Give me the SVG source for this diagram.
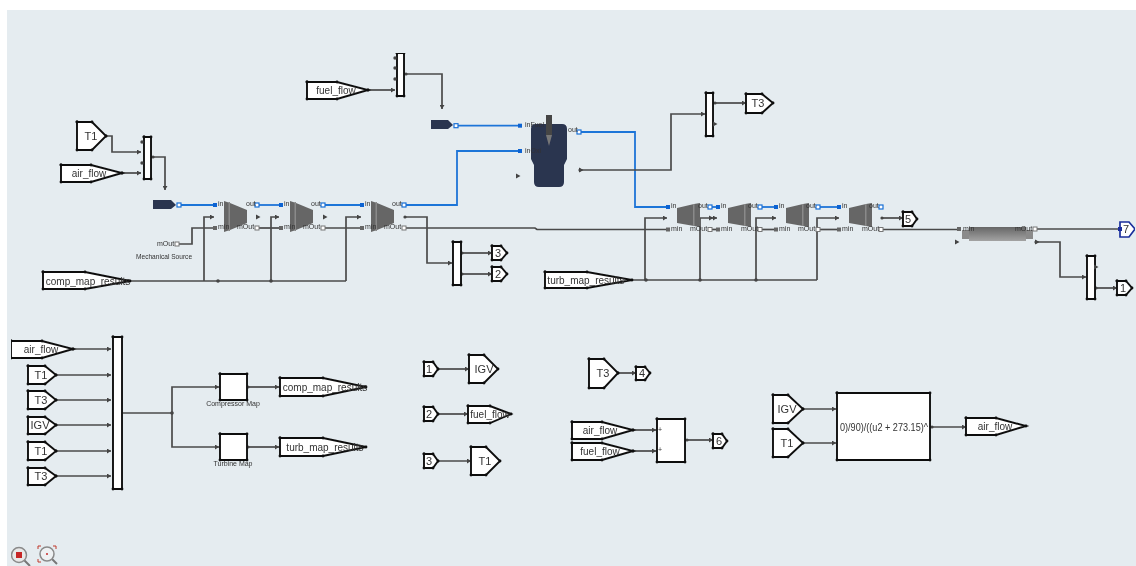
<svg xmlns="http://www.w3.org/2000/svg" width="1136" height="566" viewBox="0 0 1136 566">
<style>
text{font-family:"Liberation Sans",Arial,sans-serif;fill:#333}
.b{fill:#fff;stroke:#111;stroke-width:1.9;marker:url(#d)}
.t{font-size:10px;text-anchor:middle}
.n{font-size:11px;text-anchor:middle}
.s{font-size:7px}
.l{font-size:7px;text-anchor:middle}
.w{fill:none;stroke:#4a4a4a;stroke-width:1.7;marker-start:url(#o);marker-end:url(#a)}
.w2{fill:none;stroke:#4a4a4a;stroke-width:1.7}
.f{fill:none;stroke:#1f74d8;stroke-width:1.8}
.m{fill:#666}
.m2{fill:#8a8a8a}
.pb{fill:#0a64d2}
.ph{fill:#fff;stroke:#1a6fd6;stroke-width:1.2}
.pg{fill:#666}
.pw{fill:#fff;stroke:#777;stroke-width:1}
.y{fill:#2a3450}
</style>
<defs>
<filter id="soft" x="0" y="0" width="1" height="1"><feGaussianBlur stdDeviation="0.4"/></filter>
<marker id="d" markerUnits="userSpaceOnUse" markerWidth="4" markerHeight="4" refX="2" refY="2"><circle cx="2" cy="2" r="1.4" fill="#111"/></marker>
<marker id="a" markerUnits="userSpaceOnUse" markerWidth="5" markerHeight="5" refX="4" refY="2.5" orient="auto"><path d="M0 0L4 2.5L0 5Z" fill="#444"/></marker>
<marker id="o" markerUnits="userSpaceOnUse" markerWidth="4" markerHeight="4" refX="2" refY="2"><circle cx="2" cy="2" r="1.6" fill="#444"/></marker>
<linearGradient id="g" x1="0" y1="0" x2="0" y2="1"><stop offset="0" stop-color="#666"/><stop offset="1" stop-color="#a3a3a3"/></linearGradient>
<g id="comp"><polygon class="m" points="0,0 6,2 23,9 23,22 6,29 0,31"/><rect class="m2" x="4.5" y="1" width="1.5" height="29"/></g>
<g id="turb"><polygon class="m" points="0,5 17,1 23,0 23,24 17,23 0,20"/><rect class="m2" x="16" y="1" width="1.5" height="22"/></g>
<rect id="psb" x="-2" y="-2" width="4" height="4" class="pb"/>
<rect id="psh" x="-2" y="-2" width="4" height="4" class="ph"/>
<rect id="psg" x="-2" y="-2" width="4" height="4" class="pg"/>
<rect id="psw" x="-2" y="-2" width="4" height="4" class="pw"/>
<path id="ar" d="M-2 -2.5L2.5 0L-2 2.5Z" fill="#444"/>
</defs>
<rect width="1136" height="566" fill="#fff"/>
<rect x="7" y="10" width="1129" height="556" fill="#e5ecf0"/>
<g filter="url(#soft)">
<g id="connectors">
<path class="w" d="M106 136H112V152H141"/>
<path class="w" d="M122 173H141"/>
<path class="w" d="M153 157H165V190"/>
<path class="f" d="M179 205H215"/>
<path class="f" d="M257 205H281"/>
<path class="f" d="M323 205H362"/>
<path class="f" d="M404 205H457V151H520"/>
<path class="f" d="M456 125.7H520"/>
<path class="f" d="M579 132H635V207H668"/>
<path class="f" d="M710 207H718"/>
<path class="f" d="M760 207H776"/>
<path class="f" d="M818 207H839"/>
<path class="w2" d="M177 244H192V228H215"/>
<path class="w2" d="M257 228H281"/>
<path class="w2" d="M323 228H362"/>
<path class="w2" d="M404 228H535L537 229.5H668"/>
<path class="w2" d="M710 229.5H718"/>
<path class="w2" d="M760 229.5H776"/>
<path class="w2" d="M818 229.5H839"/>
<path class="w2" d="M881 229.5H959"/>
<path class="w2" d="M1035 229H1120"/>
<path class="w2" d="M130 281H346"/>
<path class="w" style="marker-start:none" d="M204 281V217H214"/>
<path class="w" style="marker-start:none" d="M271 281V217H279"/>
<path class="w" style="marker-start:none" d="M346 281V217H361"/>
<circle cx="218" cy="281" r="1.8" fill="#444"/><circle cx="271" cy="281" r="1.8" fill="#444"/>
<path class="w" d="M405 217H427V263H452"/>
<path class="w" d="M462 253H492"/>
<path class="w" d="M462 274H492"/>
<path class="w" d="M368 90H395"/>
<path class="w" d="M406 74H442V109"/>
<path class="w" d="M580 170H671V114H705"/>
<path class="w" d="M715 103H746"/>
<path class="w2" d="M632 280H817"/>
<path class="w" style="marker-start:none" d="M645 280V218H667"/>
<path class="w" style="marker-start:none" d="M700 280V218H717"/>
<path class="w" style="marker-start:none" d="M756 280V218H776"/>
<path class="w" style="marker-start:none" d="M817 280V218H839"/>
<circle cx="646" cy="280" r="1.8" fill="#444"/><circle cx="700" cy="280" r="1.8" fill="#444"/><circle cx="756" cy="280" r="1.8" fill="#444"/>
<path class="w" d="M882 218H903"/>
<path class="w" d="M1036 242H1060V277H1086"/>
<path class="w" d="M1096 288H1117"/>
<path class="w" d="M73 349H111"/>
<path class="w" d="M56 375H111"/>
<path class="w" d="M56 400H111"/>
<path class="w" d="M56 425H111"/>
<path class="w" d="M56 451H111"/>
<path class="w" d="M56 476H111"/>
<path class="w2" d="M123 413H172"/>
<path class="w" style="marker-start:none" d="M172 413V387H219"/>
<path class="w" style="marker-start:none" d="M172 413V447H219"/>
<circle cx="172" cy="413" r="1.8" fill="#444"/>
<path class="w" d="M248 387H279"/>
<path class="w" d="M248 447H279"/>
<path class="w" d="M438 369H469"/>
<path class="w" d="M438 414H468"/>
<path class="w" d="M438 461H471"/>
<path class="w" d="M618 373H636"/>
<path class="w" d="M633 430H656"/>
<path class="w" d="M633 451H656"/>
<path class="w" d="M687 440H713"/>
<path class="w" d="M803 409H836"/>
<path class="w" d="M803 443H836"/>
<path class="w" d="M932 427H966"/>
</g>

<g id="tag-t1-top"><polygon class="b" points="77,122 92,122 106,136 92,150 77,150"/><text class="n" x="91" y="140">T1</text></g>
<g id="tag-air-top"><polygon class="b" points="61,165 91,165 122,173 91,182 61,182"/><text class="t" x="89" y="177">air_flow</text></g>
<g id="mux-air"><polygon class="b" points="144,137 151,137 151,179 144,179"/><g fill="#444"><circle cx="142" cy="142" r="1.7"/><circle cx="142" cy="163" r="1.7"/></g></g>
<g id="source-air"><polygon class="y" points="153,200 171,200 176,205 171,209 153,209"/><use href="#psh" x="179" y="205"/></g>
<g id="comp1"><use href="#comp" x="224" y="201"/><use href="#psb" x="215" y="205"/><use href="#psg" x="215" y="228"/><use href="#psh" x="257" y="205"/><use href="#psw" x="257" y="228"/><use href="#ar" x="258" y="217"/><text class="s" x="218" y="206">in</text><text class="s" x="218" y="229">min</text><text class="s" x="246" y="206">out</text><text class="s" x="237" y="229">mOut</text></g>
<g id="comp2"><use href="#comp" x="290" y="201"/><use href="#psb" x="281" y="205"/><use href="#psg" x="281" y="228"/><use href="#psh" x="323" y="205"/><use href="#psw" x="323" y="228"/><use href="#ar" x="325" y="217"/><text class="s" x="284" y="206">in</text><text class="s" x="284" y="229">min</text><text class="s" x="311" y="206">out</text><text class="s" x="303" y="229">mOut</text></g>
<g id="comp3"><use href="#comp" x="371" y="201"/><use href="#psb" x="362" y="205"/><use href="#psg" x="362" y="228"/><use href="#psh" x="404" y="205"/><use href="#psw" x="404" y="228"/><text class="s" x="365" y="206">in</text><text class="s" x="365" y="229">min</text><text class="s" x="392" y="206">out</text><text class="s" x="384" y="229">mOut</text></g>
<g id="mech-source"><use href="#psw" x="177" y="244"/><text class="s" x="157" y="246">mOut</text><text class="s" style="font-size:6.6px" x="136" y="259">Mechanical Source</text></g>
<g id="tag-comp-top"><polygon class="b" points="43,272 85,272 130,281 85,289 43,289"/><text class="t" x="88" y="285">comp_map_results</text></g>
<g id="mux-t"><polygon class="b" points="453,242 461,242 461,285 453,285"/></g>
<g id="tag-3"><polygon class="b" points="492,246 501,246 507,253 501,260 492,260"/><text class="n" x="498" y="257">3</text></g>
<g id="tag-2"><polygon class="b" points="492,267 501,267 507,274 501,281 492,281"/><text class="n" x="498" y="278">2</text></g>
<g id="tag-fuel-top"><polygon class="b" points="307,82 337,82 368,90 337,99 307,99"/><text class="t" x="336" y="94">fuel_flow</text></g>
<g id="mux-fuel"><polygon class="b" points="397,53 404,53 404,96 397,96"/><g fill="#444"><circle cx="395" cy="58" r="1.7"/><circle cx="395" cy="68" r="1.7"/><circle cx="395" cy="79" r="1.7"/></g></g>
<g id="source-fuel"><polygon class="y" points="431,120 448,120 453,125 448,129 431,129"/><use href="#psh" x="456" y="125.7"/></g>
<g id="combustor">
<path class="y" d="M536 124H562Q567 124 567 129V159L564 165V182Q564 187 559 187H539Q534 187 534 182V165L531 159V129Q531 124 536 124Z"/>
<rect x="546" y="115" width="6" height="20" fill="#444"/><polygon points="546,135 552,135 549,146" fill="#777"/>
<use href="#psb" x="520" y="125.7"/><use href="#psb" x="520" y="151"/><use href="#psh" x="579" y="132"/><use href="#ar" x="518" y="176"/><use href="#ar" x="581" y="170"/>
<text class="s" x="525" y="127">inFuel</text><text class="s" x="525" y="153">inOxi</text><text class="s" x="568" y="132">out</text></g>
<g id="mux-t3"><polygon class="b" points="706,93 713,93 713,136 706,136"/><use href="#ar" x="715" y="124"/></g>
<g id="tag-t3-top"><polygon class="b" points="746,94 762,94 773,103 762,113 746,113"/><text class="n" x="758" y="107">T3</text></g>
<g id="turb1"><use href="#turb" x="677" y="203"/><use href="#psb" x="668" y="207"/><use href="#psg" x="668" y="229.5"/><use href="#psh" x="710" y="207"/><use href="#psw" x="710" y="229.5"/><use href="#ar" x="711" y="218"/><text class="s" x="671" y="208">in</text><text class="s" x="671" y="231">min</text><text class="s" x="698" y="208">out</text><text class="s" x="690" y="231">mOut</text></g>
<g id="turb2"><use href="#turb" x="728" y="203"/><use href="#psb" x="718" y="207"/><use href="#psg" x="718" y="229.5"/><use href="#psh" x="760" y="207"/><use href="#psw" x="760" y="229.5"/><text class="s" x="721" y="208">in</text><text class="s" x="721" y="231">min</text><text class="s" x="748" y="208">out</text><text class="s" x="741" y="231">mOut</text></g>
<g id="turb3"><use href="#turb" x="786" y="203"/><use href="#psb" x="776" y="207"/><use href="#psg" x="776" y="229.5"/><use href="#psh" x="818" y="207"/><use href="#psw" x="818" y="229.5"/><text class="s" x="779" y="208">in</text><text class="s" x="779" y="231">min</text><text class="s" x="806" y="208">out</text><text class="s" x="798" y="231">mOut</text></g>
<g id="turb4"><use href="#turb" x="849" y="203"/><use href="#psb" x="839" y="207"/><use href="#psg" x="839" y="229.5"/><use href="#psh" x="881" y="207"/><use href="#psw" x="881" y="229.5"/><text class="s" x="842" y="208">in</text><text class="s" x="842" y="231">min</text><text class="s" x="869" y="208">out</text><text class="s" x="862" y="231">mOut</text></g>
<g id="tag-5"><polygon class="b" points="903,212 912,212 917,219 912,226 903,226"/><text class="n" x="908" y="223">5</text></g>
<g id="tag-turb-top"><polygon class="b" points="545,272 587,272 632,280 587,288 545,288"/><text class="t" x="586" y="284">turb_map_results</text></g>
<g id="pipe"><rect x="962" y="230" width="71" height="9" fill="#8a8a8a"/><rect x="969" y="227" width="57" height="14" fill="url(#g)"/><use href="#psg" x="959" y="229"/><use href="#psw" x="1035" y="229"/><use href="#ar" x="957" y="242"/><use href="#ar" x="1037" y="242"/><text class="s" x="963" y="231">min</text><text class="s" x="1015" y="231">mOut</text></g>
<g id="tag-7"><polygon fill="#fff" stroke="#1a2f9c" stroke-width="1.7" points="1120,222 1129,222 1135,229 1129,237 1120,237"/><rect x="1118" y="227" width="4" height="4" fill="#1a2f9c"/><text class="n" x="1126" y="233">7</text></g>
<g id="mux-1"><polygon class="b" points="1087,256 1095,256 1095,299 1087,299"/><use href="#ar" x="1096" y="267"/></g>
<g id="tag-1"><polygon class="b" points="1117,281 1126,281 1132,288 1126,295 1117,295"/><text class="n" x="1123" y="292">1</text></g>

<g id="tag-air-b"><polygon class="b" points="11,341 42,341 73,349 42,358 11,358"/><text class="t" x="41" y="353">air_flow</text></g>
<g id="tag-t1-b1"><polygon class="b" points="28,366 45,366 56,375 45,384 28,384"/><text class="n" x="41" y="379">T1</text></g>
<g id="tag-t3-b1"><polygon class="b" points="28,391 45,391 56,400 45,409 28,409"/><text class="n" x="41" y="404">T3</text></g>
<g id="tag-igv-b"><polygon class="b" points="28,417 45,417 56,425 45,434 28,434"/><text class="n" x="40" y="429">IGV</text></g>
<g id="tag-t1-b2"><polygon class="b" points="28,442 45,442 56,451 45,460 28,460"/><text class="n" x="41" y="455">T1</text></g>
<g id="tag-t3-b2"><polygon class="b" points="28,468 45,468 56,476 45,485 28,485"/><text class="n" x="41" y="480">T3</text></g>
<g id="mux-big"><polygon class="b" points="113,337 122,337 122,489 113,489"/></g>
<g id="comp-map"><polygon class="b" points="220,374 247,374 247,400 220,400"/><text class="l" x="233" y="406">Compressor Map</text></g>
<g id="turb-map"><polygon class="b" points="220,434 247,434 247,460 220,460"/><text class="l" x="233" y="466">Turbine Map</text></g>
<g id="tag-comp-b"><polygon class="b" points="280,378 323,378 366,387 323,396 280,396"/><text class="t" x="325" y="391">comp_map_results</text></g>
<g id="tag-turb-b"><polygon class="b" points="280,438 323,438 366,447 323,456 280,456"/><text class="t" x="325" y="451">turb_map_results</text></g>

<g id="tag-1b"><polygon class="b" points="424,362 433,362 438,369 433,376 424,376"/><text class="n" x="429" y="373">1</text></g>
<g id="tag-igv2"><polygon class="b" points="469,355 484,355 498,369 484,383 469,383"/><text class="n" x="484" y="373">IGV</text></g>
<g id="tag-2b"><polygon class="b" points="424,407 433,407 438,414 433,421 424,421"/><text class="n" x="429" y="418">2</text></g>
<g id="tag-fuel2"><polygon class="b" points="468,406 490,406 511,414 490,423 468,423"/><text class="t" x="490" y="418">fuel_flow</text></g>
<g id="tag-3b"><polygon class="b" points="424,454 433,454 438,461 433,468 424,468"/><text class="n" x="429" y="465">3</text></g>
<g id="tag-t1c"><polygon class="b" points="471,447 486,447 500,461 486,475 471,475"/><text class="n" x="485" y="465">T1</text></g>
<g id="tag-t3c"><polygon class="b" points="589,359 604,359 618,373 604,388 589,388"/><text class="n" x="603" y="377">T3</text></g>
<g id="tag-4"><polygon class="b" points="636,367 645,367 650,373 645,380 636,380"/><text class="n" x="642" y="377">4</text></g>
<g id="tag-air-c"><polygon class="b" points="572,422 602,422 633,430 602,439 572,439"/><text class="t" x="600" y="434">air_flow</text></g>
<g id="tag-fuel-c"><polygon class="b" points="572,443 602,443 633,451 602,460 572,460"/><text class="t" x="600" y="455">fuel_flow</text></g>
<g id="sum"><polygon class="b" points="657,419 685,419 685,462 657,462"/><text class="s" x="658" y="432">+</text><text class="s" x="658" y="452">+</text></g>
<g id="tag-6"><polygon class="b" points="713,434 722,434 727,441 722,448 713,448"/><text class="n" x="719" y="445">6</text></g>
<g id="tag-igv3"><polygon class="b" points="773,395 788,395 803,409 788,423 773,423"/><text class="n" x="787" y="413">IGV</text></g>
<g id="tag-t1d"><polygon class="b" points="773,429 788,429 803,443 788,457 773,457"/><text class="n" x="787" y="447">T1</text></g>
<g id="fcn"><polygon class="b" points="837,393 930,393 930,460 837,460"/><text class="n" x="884" y="431" textLength="88" lengthAdjust="spacingAndGlyphs">0)/90)/((u2 + 273.15)^</text></g>
<g id="tag-air-d"><polygon class="b" points="966,418 996,418 1026,426 996,435 966,435"/><text class="t" x="995" y="430">air_flow</text></g>

<g id="zoom-icons">
<line x1="24" y1="560" x2="30" y2="566" stroke="#777" stroke-width="2"/><circle cx="19" cy="555" r="7.5" fill="#e8e8e8" stroke="#8a8a8a" stroke-width="1.5"/><rect x="16" y="552" width="6" height="6" fill="#c62828"/>
<line x1="52" y1="559" x2="57" y2="564" stroke="#777" stroke-width="2"/><circle cx="47" cy="554" r="7" fill="#eef1f3" stroke="#8a8a8a" stroke-width="1.5"/><circle cx="47" cy="554" r="1" fill="#c62828"/>
<path d="M38 549V546H41M53 546H56V549M38 559V562H41" fill="none" stroke="#c0392b"/>
</g>
</g>
</svg>
